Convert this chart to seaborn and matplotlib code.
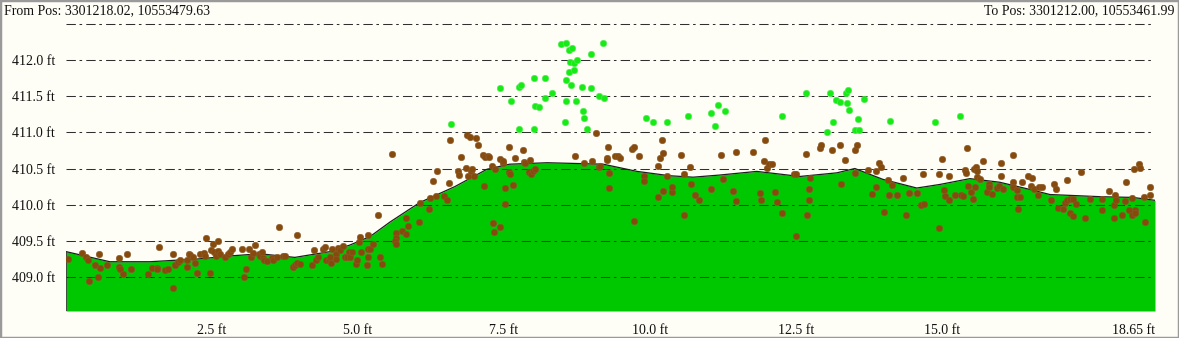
import numpy as np
import pandas as pd
import matplotlib
matplotlib.use("Agg")
import matplotlib.pyplot as plt
import seaborn as sns
from matplotlib.patches import Rectangle

# ---------------- data ----------------
terrain_x = [0.00, 0.75, 1.44, 2.29, 2.81, 3.32, 3.92, 4.52, 4.86, 5.21, 5.55, 6.06,
             6.66, 7.21, 7.60, 8.24, 9.20, 9.78, 10.34, 10.74, 11.20, 11.83, 12.57,
             13.20, 13.51, 13.99, 14.57, 14.97, 15.48, 15.99, 16.51, 16.85, 17.14,
             17.71, 18.27, 18.65]
terrain_y = [409.35, 409.21, 409.21, 409.25, 409.29, 409.32, 409.27, 409.35, 409.44,
             409.56, 409.76, 410.03, 410.25, 410.49, 410.56, 410.58, 410.56, 410.46,
             410.40, 410.38, 410.41, 410.46, 410.39, 410.44, 410.50, 410.35, 410.23,
             410.28, 410.36, 410.31, 410.21, 410.14, 410.13, 410.11, 410.10, 410.06]

ground_x = [0.04, 0.27, 0.35, 0.37, 0.57, 0.50, 0.59, 0.40, 0.54, 0.70, 0.91, 0.90,
            0.92, 0.98, 1.05, 1.11, 1.41, 1.48, 1.55, 1.56, 1.60, 1.70, 1.75, 1.84,
            1.83, 1.87, 1.91, 1.95, 2.07, 2.07, 2.10, 2.13, 2.18, 2.21, 2.25, 2.29,
            2.36, 2.39, 2.38, 2.47, 2.48, 2.51, 2.53, 2.57, 2.60, 2.61, 2.63, 2.72,
            2.78, 2.81, 2.85, 3.01, 3.05, 3.08, 3.14, 3.17, 3.21, 3.24, 3.30, 3.33,
            3.36, 3.38, 3.39, 3.44, 3.53, 3.55, 3.64, 3.62, 3.71, 3.75, 3.89, 3.92,
            3.96, 3.96, 4.00, 4.21, 4.25, 4.28, 4.32, 4.40, 4.43, 4.46, 4.51, 4.52,
            4.53, 4.55, 4.62, 4.63, 4.66, 4.70, 4.74, 4.78, 4.82, 4.85, 4.87, 4.89,
            4.96, 4.99, 5.02, 5.03, 5.06, 5.16, 5.18, 5.18, 5.18, 5.21, 5.25, 5.35,
            5.37, 5.41,
            5.58, 5.66, 5.75, 5.82, 5.82, 5.85, 6.05, 6.06, 6.21, 6.23, 6.28, 6.34,
            6.36, 6.47, 6.52, 6.56, 6.57, 6.72, 6.73, 6.77, 6.85, 6.86, 6.89, 6.92,
            6.93, 6.95, 6.99, 7.02, 7.05, 7.15, 7.16, 7.17, 7.23, 7.25, 7.29, 7.31,
            7.33, 7.35, 7.43, 7.44, 7.48, 7.49, 7.51, 7.52, 7.58, 7.59, 7.61, 7.65,
            7.69, 7.83, 7.84, 7.86, 7.93, 7.95, 7.97, 8.00, 8.03, 8.72, 8.87, 9.00,
            9.08, 9.12, 9.14, 9.26, 9.28, 9.27, 9.30, 9.30, 9.40, 9.46, 9.49, 9.69,
            9.72, 9.73, 9.82, 9.90, 9.90, 10.13, 10.14, 10.17, 10.20, 10.22, 10.23,
            10.29, 5.65, 5.64, 5.66,
            10.37, 10.38, 10.54, 10.59, 10.59, 10.69, 10.71, 10.78, 10.84, 11.04,
            11.22, 11.25, 11.42, 11.47, 11.48, 11.76, 11.89, 11.91, 11.95, 11.97,
            12.01, 12.04, 12.09, 12.15, 12.18, 12.27, 12.47, 12.51, 12.51, 12.68,
            12.69, 12.72, 12.73, 12.74, 12.91, 12.93, 13.11, 13.25, 13.28, 13.34,
            13.51, 13.55, 13.51, 13.74, 13.80, 13.87, 13.88, 13.92, 13.95, 14.01,
            14.07, 14.09, 14.15, 14.23, 14.33, 14.38, 14.43, 14.57, 14.64, 14.68,
            14.69,
            14.95, 14.95, 15.00, 15.04, 15.05, 15.12, 15.12, 15.22, 15.33, 15.37,
            15.39, 15.43, 15.42, 15.45, 15.50, 15.53, 15.55, 15.57, 15.59, 15.61,
            15.61, 15.65, 15.71, 15.78, 15.80, 15.81, 15.86, 15.95, 15.98, 16.02,
            16.02, 16.04, 16.21, 16.22, 16.21, 16.28, 16.29, 16.33, 16.31, 16.37,
            16.48, 16.52, 16.54, 16.57, 16.65, 16.67, 16.71, 16.87, 16.92, 16.96,
            16.99, 17.07, 17.11, 17.14, 17.14, 17.19, 17.20, 17.24, 17.25, 17.29,
            17.38, 17.45, 17.53, 17.75, 17.75, 17.86, 17.94, 17.95, 17.97, 17.98,
            18.09, 18.13, 18.16, 18.20, 18.25, 18.26, 18.29, 18.30, 18.31, 18.37,
            18.39, 18.46, 18.48, 18.56, 18.57]
ground_y = [409.25, 409.33, 409.27, 409.24, 409.31, 409.17, 409.13, 408.95, 409.00,
            409.16, 409.26, 409.14, 409.11, 409.04, 409.32, 409.11, 409.04, 409.13,
            409.13, 409.11, 409.42, 409.09, 409.11, 409.32, 408.84, 409.16, 409.20,
            409.24, 409.23, 409.14, 409.31, 409.30, 409.28, 409.19, 409.06, 409.31,
            409.33, 409.54, 409.29, 409.06, 409.37, 409.46, 409.35, 409.29, 409.49,
            409.36, 409.31, 409.28, 409.32, 409.35, 409.38, 409.38, 409.00, 409.11,
            409.38, 409.28, 409.33, 409.44, 409.31, 409.29, 409.34, 409.26, 409.24,
            409.22, 409.26, 409.24, 409.69, 409.27, 409.29, 409.29, 409.14, 409.17,
            409.58, 409.19, 409.18, 409.17, 409.37, 409.24, 409.28, 409.38, 409.41,
            409.24, 409.23, 409.27, 409.19, 409.38, 409.31, 409.25, 409.40, 409.37,
            409.43, 409.28, 409.27, 409.35, 409.28, 409.34, 409.18, 409.24, 409.48,
            409.55, 409.34, 409.17, 409.38, 409.27, 409.58, 409.38, 409.46, 409.86,
            409.27, 409.18,
            410.70, 409.61, 409.63, 409.60, 409.81, 409.71, 409.76, 410.02, 409.94,
            410.09, 410.33, 410.12, 410.47, 410.12, 410.06, 410.30, 410.89, 410.47,
            410.41, 410.66, 410.51, 410.97, 410.39, 410.94, 410.46, 410.49, 410.40,
            410.92, 410.82, 410.69, 410.26, 410.66, 410.67, 410.66, 410.54, 409.75,
            409.62, 410.50, 410.63, 409.69, 410.57, 410.60, 410.23, 410.01, 410.80,
            410.45, 410.43, 410.27, 410.65, 410.75, 410.59, 410.57, 410.45, 410.62,
            410.42, 410.46, 410.49, 410.67, 410.58, 410.60, 410.99, 410.52, 410.53,
            410.65, 410.80, 410.62, 410.44, 410.23, 410.68, 410.68, 410.65, 410.77,
            410.80, 409.78, 410.68, 410.39, 410.33, 410.54, 410.10, 410.65, 410.89,
            410.72, 410.19, 410.40, 409.54, 409.50, 409.46,
            410.17, 410.25, 410.69, 410.42, 409.85, 410.52, 410.28, 410.13, 410.06,
            410.22, 410.69, 410.35, 410.19, 410.73, 410.05, 410.73, 410.16, 410.06,
            410.60, 410.90, 410.51, 410.56, 410.56, 410.17, 410.04, 409.89, 410.42,
            410.43, 409.56, 410.70, 409.85, 410.06, 410.22, 410.37, 410.78, 410.82,
            410.75, 410.83, 410.28, 410.62, 410.75, 410.82, 410.44, 410.48, 410.15,
            410.25, 410.47, 410.57, 410.52, 409.90, 410.34, 410.13, 410.27, 410.13,
            410.37, 409.86, 410.16, 410.16, 410.00, 410.42, 410.01,
            410.42, 409.67, 410.63, 410.20, 410.12, 410.40, 410.07, 410.14, 410.14,
            410.12, 410.48, 410.78, 410.44, 410.26, 410.17, 410.08, 410.49, 410.25,
            410.52, 410.47, 410.38, 410.36, 410.60, 410.17, 410.28, 410.25, 410.15,
            410.23, 410.26, 410.57, 410.40, 410.21, 410.69, 410.31, 410.25, 410.20,
            410.11, 410.11, 409.94, 410.32, 410.40, 410.26, 410.37, 410.22, 410.13,
            410.25, 410.25, 410.06, 410.28, 410.22, 409.95, 409.94, 410.02, 410.34,
            410.06, 410.08, 409.88, 409.84, 410.08, 410.01, 410.45, 409.81, 410.08,
            410.08, 409.93, 410.19, 409.81, 410.00, 410.13, 410.07, 409.86, 410.05,
            410.31, 409.93, 410.09, 409.86, 410.49, 409.93, 409.88, 410.56, 410.51,
            410.10, 409.76, 410.24, 410.13]

high_x = [6.59, 7.44, 7.62, 7.75, 7.76, 7.79, 8.01, 8.02, 8.04, 8.10, 8.20, 8.21,
          8.32, 8.47, 8.54, 8.57, 8.57, 8.57, 8.61, 8.63, 8.62, 8.65, 8.67, 8.70,
          8.70, 8.75, 8.74, 8.84, 8.85, 8.87, 8.92, 8.99, 8.99, 9.12, 9.19, 9.21,
          9.94, 10.06, 10.29, 10.66, 11.04, 11.11, 11.16, 11.28, 12.27, 12.67, 13.04,
          13.08, 13.13, 13.18, 13.25, 13.36, 13.39, 13.37, 13.41, 13.52, 13.57, 13.58,
          13.66, 14.12, 14.88, 15.31]
high_y = [411.11, 411.62, 411.44, 411.04, 411.63, 411.66, 411.75, 411.04, 411.37,
          411.35, 411.48, 411.75, 411.54, 412.22, 411.15, 411.44, 412.24, 411.72,
          412.14, 411.98, 411.83, 411.66, 412.17, 411.96, 411.87, 412.00, 411.44,
          411.63, 411.30, 411.20, 411.05, 412.09, 411.62, 411.50, 412.24, 411.47,
          411.20, 411.15, 411.14, 411.23, 411.27, 411.09, 411.38, 411.29, 411.23,
          411.55, 411.00, 411.55, 411.15, 411.45, 411.42, 411.55, 411.59, 411.41,
          411.31, 411.03, 411.19, 411.03, 411.46, 411.16, 411.15, 411.23]

ytick_vals = [409.0, 409.5, 410.0, 410.5, 411.0, 411.5, 412.0, 412.5]
ytick_labels = ["409.0 ft", "409.5 ft", "410.0 ft", "410.5 ft", "411.0 ft",
                "411.5 ft", "412.0 ft", ""]
xtick_vals = [0.0, 2.5, 5.0, 7.5, 10.0, 12.5, 15.0, 17.5, 18.65]
xtick_labels = ["", "2.5 ft", "5.0 ft", "7.5 ft", "10.0 ft", "12.5 ft",
                "15.0 ft", "", "18.65 ft"]
from_label = "From Pos: 3301218.02, 10553479.63"
to_label = "To Pos: 3301212.00, 10553461.99"

# ---------------- style ----------------
BG = "#FFFEF6"
sns.set_style("white", rc={"axes.facecolor": BG, "figure.facecolor": BG})
plt.rcParams["font.family"] = ["Liberation Serif", "DejaVu Serif"]
plt.rcParams["font.size"] = 10

W, H = 1179, 338
fig = plt.figure(figsize=(W / 100, H / 100), dpi=100)
fig.patch.set_facecolor(BG)
ax = fig.add_axes([66 / W, (H - 311) / H, (1155 - 66) / W, (311 - 18) / H])
ax.set_facecolor(BG)

terrain = pd.DataFrame({"x": terrain_x, "y": terrain_y})
ground = pd.DataFrame({"x": ground_x, "y": ground_y})
high = pd.DataFrame({"x": high_x, "y": high_y})

ymin, ymax = 408.528, 412.583
ax.fill_between(terrain["x"], terrain["y"], ymin, color="#00C800", lw=0, zorder=1)
sns.lineplot(data=terrain, x="x", y="y", ax=ax, color="#1e1e1e", lw=0.9,
             zorder=2.2, sort=False, estimator=None)
# left edge of the profile
ax.vlines(terrain_x[0], ymin, terrain_y[0], color="#333333", lw=1.2, zorder=2.2)

ax.set_axisbelow("line")
ax.set_yticks(ytick_vals)
ax.set_yticklabels(ytick_labels)
ax.yaxis.grid(True, color="#303030", lw=0.75,
              linestyle=(0, (9, 3.5, 2.5, 4)))
ax.xaxis.grid(False)

sns.scatterplot(data=ground, x="x", y="y", ax=ax, color="#864A0C", s=22,
                edgecolor="#8a5a2a", linewidth=0.4, zorder=3, legend=False)
sns.scatterplot(data=high, x="x", y="y", ax=ax, color="#18EA18", s=22,
                edgecolor="#55ee55", linewidth=0.4, zorder=3, legend=False)

ax.set_xlim(0, 18.65)
ax.set_ylim(ymin, ymax)
ax.set_xticks(xtick_vals)
ax.set_xticklabels(xtick_labels)
ax.tick_params(axis="y", length=0, pad=8, labelsize=10, labelcolor="#111111")
ax.tick_params(axis="x", length=5, width=1, color="#333333", pad=4,
               labelsize=10, labelcolor="#111111", direction="out")
xl = ax.get_xticklabels()
xl[-1].set_horizontalalignment("right")
ax.set_xlabel("")
ax.set_ylabel("")
for s in ax.spines.values():
    s.set_visible(False)

fig.text(4 / W, 1 - 11 / H, from_label, ha="left", va="center", fontsize=10,
         color="#111111")
fig.text(1175 / W, 1 - 11 / H, to_label, ha="right", va="center", fontsize=10,
         color="#111111")
fig.patches.append(Rectangle((0, 0), 1, 1, transform=fig.transFigure,
                             fill=False, edgecolor="#9a9a9a", lw=2.5))

fig.savefig("out.png", dpi=100, facecolor=BG)
